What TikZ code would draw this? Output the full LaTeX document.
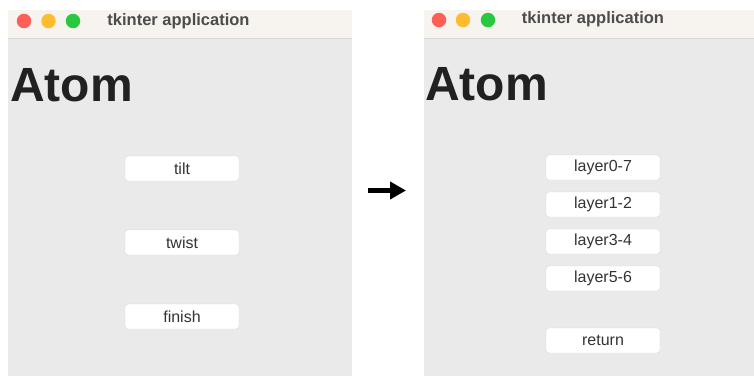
\documentclass[tikz,border=0pt]{standalone}
\usepackage{fontspec}
\setmainfont{Liberation Sans}
\usetikzlibrary{arrows.meta,positioning}

\definecolor{titlebg}{HTML}{F7F4EF}
\definecolor{winbg}{HTML}{EAEAEA}
\definecolor{closered}{HTML}{FE5F57}
\definecolor{minyellow}{HTML}{FEBC2E}
\definecolor{maxgreen}{HTML}{28C840}

\tikzset{
  btn/.style={draw=black!15, fill=white, rounded corners=3pt, minimum width=114pt,
    minimum height=25pt, inner sep=0pt, text=black!80, font=\fontsize{16}{18}\selectfont},
  light/.style={circle, minimum size=14.5pt, inner sep=0pt},
  wintitle/.style={text=black!70, font=\bfseries\fontsize{16.5}{18}\selectfont},
  bigtitle/.style={anchor=base west, inner sep=0pt, text=black!87, font=\bfseries\fontsize{48}{55}\selectfont}
}

\begin{document}
\begin{tikzpicture}[x=1pt,y=-1pt,node distance=74pt,on grid]
		\useasboundingbox (0,0) rectangle (754,376);
		\fill[white] (0,0) rectangle (754,376);

		% left window
		\fill[titlebg] (8,10) rectangle (352,38);
		\fill[winbg] (8,38) rectangle (352,376);
		\draw[black!15] (8,38) -- (352,38);
		\node[light, fill=closered] (lred) at (24,21) {};
		\node[light, fill=minyellow] (lyellow) at (48.5,21) {};
		\node[light, fill=maxgreen] (lgreen) at (73,21) {};
		\node[wintitle] (ltitle) at (178.5,21) {tkinter application};
		\node[bigtitle] (latom) at (10,101) {Atom};

		\node[btn] (tilt) at (182,168.5) {tilt};
		\node[btn, below = of tilt] (twist) {twist};
		\node[btn, below = of twist] (finish) {finish};

		% right window
		\fill[titlebg] (424,10) rectangle (754,38);
		\fill[winbg] (424,38) rectangle (754,376);
		\draw[black!15] (424,38) -- (754,38);
		\node[light, fill=closered] (rred) at (439,20) {};
		\node[light, fill=minyellow] (ryellow) at (463,20) {};
		\node[light, fill=maxgreen] (rgreen) at (488,20) {};
		\node[wintitle] (rtitle) at (593,19.5) {tkinter application};
		\node[bigtitle] (ratom) at (425,100) {Atom};

		\node[btn] (layer07) at (603,167.5) {layer0-7};
		\node[btn, below = 37pt of layer07] (layer12) {layer1-2};
		\node[btn, below = 37pt of layer12] (layer34) {layer3-4};
		\node[btn, below = 37pt of layer34] (layer56) {layer5-6};
		\node[btn, below = 62pt of layer56] (return) {return};

		% arrow between windows
		\coordinate (from) at (368,190.5);
		\coordinate (to) at (406,190.5);
		\draw[line width=4.5pt, -{Triangle[length=16pt,width=17pt]}] (from) -- (to);
	\end{tikzpicture}
\end{document}
